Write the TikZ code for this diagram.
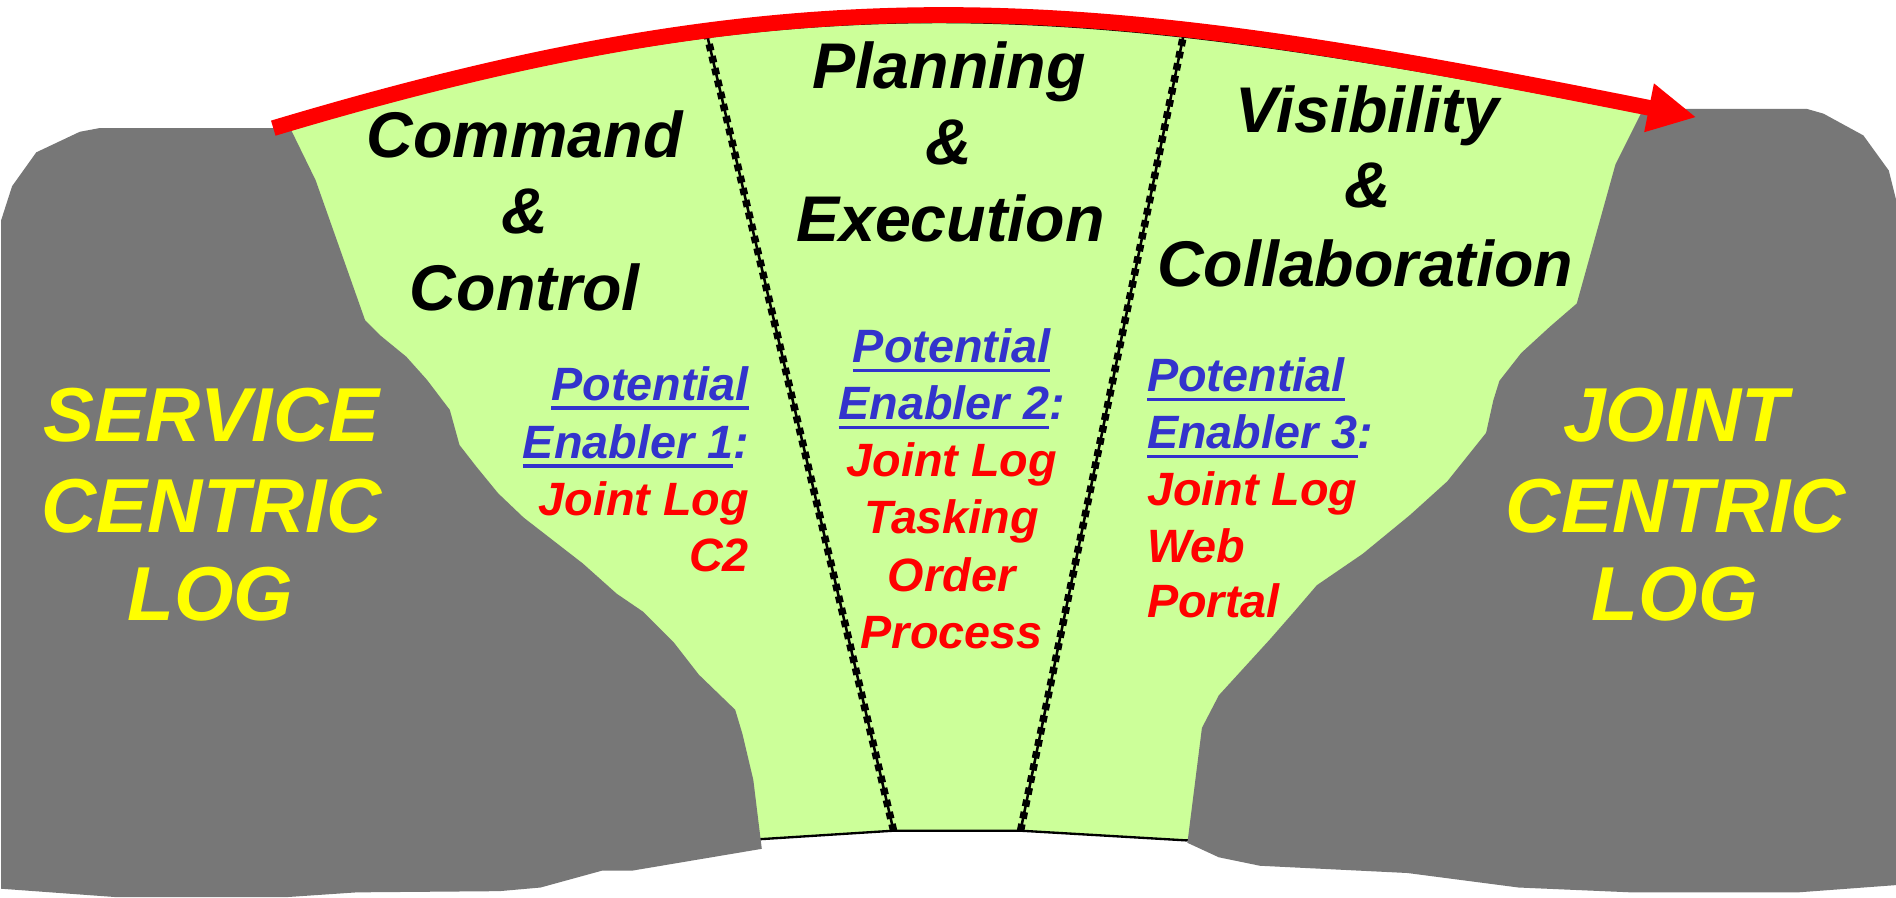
\documentclass[tikz,border=0pt]{standalone}
\usepackage{fontspec}
\setmainfont{Liberation Sans}
\usetikzlibrary{arrows.meta}
\definecolor{lgreen}{HTML}{CCFF99}
\definecolor{rock}{HTML}{777777}
\definecolor{eblue}{HTML}{3333CC}
\definecolor{ered}{HTML}{FF0000}
\definecolor{eyellow}{HTML}{FFFF00}
\newcommand\enul[1]{\setbox0\hbox{#1}\rlap{\rule[-2.2pt]{\wd0}{0.8pt}}\box0}
\begin{document}
\begin{tikzpicture}[x=0.1mm,y=-0.1mm,
  big/.style={font=\fontsize{18}{21}\selectfont\bfseries\itshape, text=eyellow, inner sep=0, anchor=base},
  ttl/.style={font=\fontsize{15.2}{18}\selectfont\bfseries\itshape, text=black, inner sep=0, anchor=base},
  enb/.style={font=\fontsize{11}{13.4}\selectfont\bfseries\itshape, inner sep=0},
  enbl/.style={enb, text=eblue},
  enbr/.style={enb, text=ered},
  sepline/.style={line width=0.6pt, black},
  sepdots/.style={line width=1.75pt, black, dash pattern=on 1.6pt off 1.3pt},
  zone/.style={fill=lgreen, draw=black, line width=0.55pt},
  rockfill/.style={fill=rock},
  flow/.style={draw=ered, line width=1.3mm, -{Triangle[length=4mm,width=3.8mm]}}]
\useasboundingbox (0,0) rectangle (1568,742);
\fill[white] (0,0) rectangle (1568,742);

% green fan
\path[zone] (226,111) .. controls (676,-24) and (903,2) .. (1403,102) -- (1420,650)
  -- (981,695) -- (844,687) -- (739,687) -- (629,694) -- (300,690) -- cycle;

% dividers
\coordinate (d1b) at (739,687);
\coordinate (d1t) at (585,30);
\coordinate (d2b) at (844,687);
\coordinate (d2t) at (979,28);
\draw[sepline] (d1b) -- (d1t);
\draw[sepdots] (d1b) -- (d1t);
\draw[sepline] (d2b) -- (d2t);
\draw[sepdots] (d2b) -- (d2t);

% left rock
\path[rockfill] (1,182) -- (10,154) -- (30,126) -- (66,109) -- (82,106) -- (240,106)
  -- (261,149) -- (302,265) -- (314,277) -- (336,295) -- (353,314) -- (372,339)
  -- (380,368) -- (394,386) -- (412,408) -- (433,428) -- (482,466) -- (510,491)
  -- (532,506) -- (557,531) -- (578,558) -- (608,587) -- (614,607) -- (623,645)
  -- (630,702) -- (523,720) -- (498,720) -- (447,734) -- (413,737) -- (295,738)
  -- (236,742) -- (97,742) -- (1,735) -- cycle;

% right rock
\path[rockfill] (1358,92) -- (1392,90) -- (1494,90) -- (1508,94) -- (1541,112)
  -- (1562,141) -- (1568,165) -- (1568,732) -- (1487,738) -- (1349,738)
  -- (1256,734) -- (1164,722) -- (1042,716) -- (1008,709) -- (982,697)
  -- (994,602) -- (1008,575) -- (1050,529) -- (1071,505) -- (1089,484)
  -- (1127,458) -- (1166,426) -- (1197,398) -- (1229,358) -- (1235,331)
  -- (1240,315) -- (1258,292) -- (1282,270) -- (1304,251) -- (1336,136) -- cycle;

% arrow
\coordinate (as) at (226,106);
\coordinate (ae) at (1403,97);
\draw[flow] (as) .. controls (676,-29) and (903,-3) .. (ae);

% rock labels
\node[big] (s1) at (175,365.5) {SERVICE};
\node[big] (s2) at (175,440) {CENTRIC};
\node[big] (s3) at (174,513) {LOG};
\node[big] (j1) at (1386,365.5) {JOINT};
\node[big] (j2) at (1386,440) {CENTRIC};
\node[big] (j3) at (1385,513) {LOG};

% titles
\node[ttl] (c1) at (434,130) {Command};
\node[ttl] (c2) at (434,193) {\&};
\node[ttl] (c3) at (434,256.5) {Control};
\node[ttl] (p1) at (785,73) {Planning};
\node[ttl] (p2) at (785,136) {\&};
\node[ttl] (p3) at (786,200) {Execution};
\node[ttl] (v1) at (1131,110) {Visibility};
\node[ttl] (v2) at (1131,172) {\&};
\node[ttl] (v3) at (1129,237) {Collaboration};

% enabler 1
\node[enbl, anchor=base east] (e1a) at (620,331) {\enul{Potential}};
\node[enbl, anchor=base east] (e1b) at (620,379) {\enul{Enabler 1}:};
\node[enbr, anchor=base east] (e1c) at (620,426) {Joint Log};
\node[enbr, anchor=base east] (e1d) at (620,473) {C2};

% enabler 2
\node[enbl, anchor=base] (e2a) at (787,300) {\enul{Potential}};
\node[enbl, anchor=base] (e2b) at (787,347) {\enul{Enabler 2}:};
\node[enbr, anchor=base] (e2c) at (787,394) {Joint Log};
\node[enbr, anchor=base] (e2d) at (787,441) {Tasking};
\node[enbr, anchor=base] (e2e) at (787,489) {Order};
\node[enbr, anchor=base] (e2f) at (787,536) {Process};

% enabler 3
\node[enbl, anchor=base west] (e3a) at (948,324) {\enul{Potential}};
\node[enbl, anchor=base west] (e3b) at (948,371) {\enul{Enabler 3}:};
\node[enbr, anchor=base west] (e3c) at (948,418) {Joint Log};
\node[enbr, anchor=base west] (e3d) at (948,465) {Web};
\node[enbr, anchor=base west] (e3e) at (948,511) {Portal};
\end{tikzpicture}
\end{document}
